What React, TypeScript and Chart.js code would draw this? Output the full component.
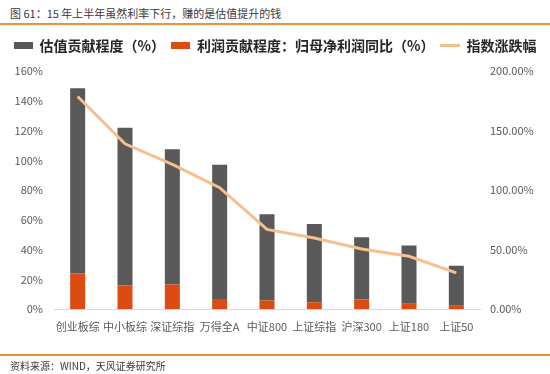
import React, { useEffect, useRef } from 'react';
import { Chart, registerables } from 'chart.js';

Chart.register(...registerables);

const categories = ['创业板综', '中小板综', '深证综指', '万得全A', '中证800', '上证综指', '沪深300', '上证180', '上证50'];
// 估值贡献程度 (%), stacked above the profit contribution
const valuationContribution = [124.2, 106.0, 90.8, 90.1, 58.0, 52.5, 41.7, 39.1, 26.9];
// 利润贡献程度：归母净利润同比 (%)
const profitContribution = [24.2, 15.9, 16.6, 6.9, 5.9, 4.8, 6.6, 3.7, 2.3];
// 指数涨跌幅 (%), right axis
const indexChange = [178.6, 138.9, 121.7, 102.1, 67.0, 59.8, 50.6, 44.5, 30.5];

const leftAxisTicks = [0, 20, 40, 60, 80, 100, 120, 140, 160];
const rightAxisTicks = [0, 50, 100, 150, 200];

const seriesNames = ['估值贡献程度（%）', '利润贡献程度：归母净利润同比（%）', '指数涨跌幅'];

const GRAY = '#595959';
const ORANGE = '#DC4C12';
const PEACH = '#F7BF8E';
const FONT = '"Noto Sans CJK SC", "Noto Sans", sans-serif';

export default function App() {
  const ref = useRef<HTMLCanvasElement>(null);

  useEffect(() => {
    const mk = (w: number, h: number, color: string) => {
      const c = document.createElement('canvas');
      c.width = w;
      c.height = h;
      const g = c.getContext('2d')!;
      g.fillStyle = color;
      g.fillRect(0, 0, w, h);
      return c;
    };
    const icons = [mk(19, 7, GRAY), mk(19, 7, ORANGE), mk(20, 3, PEACH)];

    const legendSpacer = {
      id: 'legendSpacer',
      beforeInit(chart: any) {
        const orig = chart.legend.fit;
        chart.legend.fit = function fit() {
          orig.call(this);
          this.height += 8.3;
        };
      },
    };

    const defaultGen = (Chart as any).defaults.plugins.legend.labels.generateLabels;

    const chart = new Chart(ref.current!, {
      type: 'bar',
      data: {
        labels: categories,
        datasets: [
          {
            type: 'bar',
            label: seriesNames[0],
            data: valuationContribution,
            backgroundColor: GRAY,
            yAxisID: 'y',
            order: 2,
            barPercentage: 0.317,
            categoryPercentage: 1,
          },
          {
            type: 'bar',
            label: seriesNames[1],
            data: profitContribution,
            backgroundColor: ORANGE,
            yAxisID: 'y',
            order: 1,
            barPercentage: 0.317,
            categoryPercentage: 1,
          },
          {
            type: 'line',
            label: seriesNames[2],
            data: indexChange,
            borderColor: PEACH,
            backgroundColor: PEACH,
            borderWidth: 3,
            pointRadius: 0,
            tension: 0,
            yAxisID: 'y1',
            order: 0,
          } as any,
        ],
      },
      options: {
        responsive: false,
        animation: false,
        layout: { padding: { top: 32.7, left: 0, right: 0, bottom: 34.7 } },
        plugins: {
          tooltip: { enabled: false },
          legend: {
            position: 'top',
            labels: {
              usePointStyle: true,
              pointStyleWidth: 19,
              padding: 6,
              color: '#262626',
              font: { family: FONT, size: 14, weight: 'bold' },
              generateLabels: (c: any) =>
                defaultGen(c)
                  .map((it: any) => ({ ...it, pointStyle: icons[it.datasetIndex] }))
                  .sort((a: any, b: any) => a.datasetIndex - b.datasetIndex),
            },
          },
        },
        scales: {
          x: {
            stacked: true,
            grid: { display: false, drawTicks: false },
            border: { display: true, color: '#D9D9D9', width: 1 },
            ticks: {
              color: GRAY,
              font: { family: FONT, size: 11 },
              padding: 11,
              autoSkip: false,
              maxRotation: 0,
            },
            afterFit: (s: any) => {
              s.height = 30;
            },
          },
          y: {
            stacked: true,
            position: 'left',
            min: leftAxisTicks[0],
            max: leftAxisTicks[leftAxisTicks.length - 1],
            afterBuildTicks: (s: any) => {
              s.ticks = leftAxisTicks.map((v) => ({ value: v }));
            },
            grid: { display: false, drawTicks: false },
            border: { display: false },
            ticks: {
              color: GRAY,
              font: { family: FONT, size: 11 },
              padding: 11,
              callback: (v: any) => `${v}%`,
            },
            afterFit: (s: any) => {
              s.width = 54;
            },
          },
          y1: {
            position: 'right',
            min: rightAxisTicks[0],
            max: rightAxisTicks[rightAxisTicks.length - 1],
            afterBuildTicks: (s: any) => {
              s.ticks = rightAxisTicks.map((v) => ({ value: v }));
            },
            grid: { display: false, drawTicks: false },
            border: { display: false },
            ticks: {
              color: GRAY,
              font: { family: FONT, size: 11 },
              padding: 10,
              callback: (v: any) => `${Number(v).toFixed(2)}%`,
            },
            afterFit: (s: any) => {
              s.width = 70;
            },
          },
        },
      },
      plugins: [legendSpacer],
    } as any);

    return () => chart.destroy();
  }, []);

  return (
    <div style={{ position: 'absolute', left: 0, top: 0, width: 550, height: 374, background: '#fff', overflow: 'hidden' }}>
      <div
        style={{
          position: 'absolute',
          left: 10,
          top: 6,
          fontFamily: FONT,
          fontSize: 11,
          lineHeight: '14px',
          color: '#3A3A3A',
          whiteSpace: 'nowrap',
        }}
      >
        图 61：15 年上半年虽然利率下行，赚的是估值提升的钱
      </div>
      <div style={{ position: 'absolute', left: 0, top: 23, width: 550, height: 2, background: '#E8923A' }} />
      <canvas ref={ref} width={550} height={374} style={{ position: 'absolute', left: 0, top: 0, width: 550, height: 374 }} />
      <div style={{ position: 'absolute', left: 0, top: 354, width: 550, height: 2, background: '#E8923A' }} />
      <div
        style={{
          position: 'absolute',
          left: 10,
          top: 360,
          fontFamily: FONT,
          fontSize: 10,
          lineHeight: '12px',
          color: '#3A3A3A',
          whiteSpace: 'nowrap',
        }}
      >
        资料来源：WIND，天风证券研究所
      </div>
    </div>
  );
}
